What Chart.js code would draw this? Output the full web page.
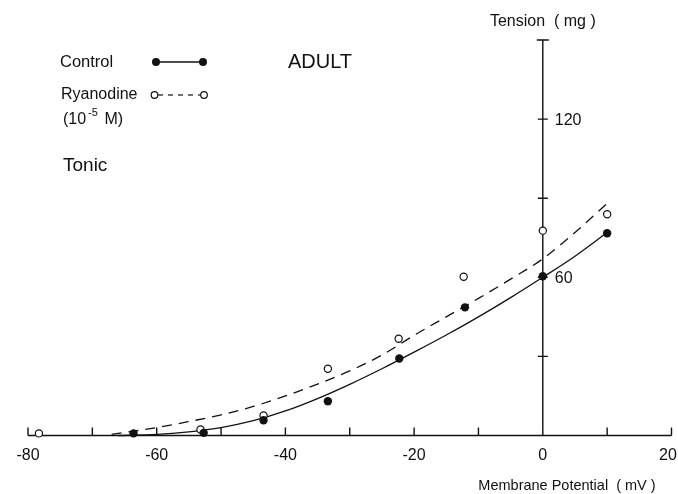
<!DOCTYPE html>
<html lang="en">
<head>
    <meta charset="UTF-8">
    <title>Tension vs Membrane Potential</title>
    <style>
        html, body {
            margin: 0;
            padding: 0;
            background: #fff;
        }
        #wrap {
            width: 678px;
            height: 494px;
        }
    </style>
    <script src="https://cdn.jsdelivr.net/npm/chart.js"></script>
</head>
<body>
    <div id="wrap">
        <canvas id="tensionChart" width="678" height="494"></canvas>
    </div>
    <script>
        // measured points
        const controlX = [-63.6, -52.7, -43.4, -33.4, -22.3, -12.1, 0, 10];
        const controlY = [0.8, 1.0, 5.8, 13.0, 29.2, 48.6, 60.4, 76.7];
        const ryanX = [-78.3, -53.2, -43.4, -33.4, -22.4, -12.3, 0, 10];
        const ryanY = [0.8, 2.3, 7.6, 25.3, 36.7, 60.2, 77.7, 83.9];

        // hand-drawn fitted curves
        const controlFitX = [-66, -60, -55, -50, -45, -40, -35, -30, -25, -20, -15, -10, -5, 0, 5, 10];
        const controlFitY = [0, 0.4, 1.4, 3.0, 5.6, 9.3, 14.0, 19.4, 25.3, 31.6, 38.1, 45, 52.3, 60, 68, 77];
        const ryanFitX = [-67, -60, -55, -50, -45, -40, -35, -30, -25, -20, -15, -10, -5, 0, 5, 10];
        const ryanFitY = [0.4, 3.0, 5.3, 7.8, 11, 15, 19.5, 24.5, 30.5, 38, 45, 52, 59.3, 67, 77, 88];

        // axes
        const xTicks = [-80, -70, -60, -50, -40, -30, -20, -10, 0, 10, 20];
        const xTickLabels = [-80, -60, -40, -20, 0, 20];
        const yTicks = [30, 60, 90, 120];
        const yTickLabels = [60, 120];

        const ink = '#111';
        const fontName = '"Liberation Sans", Arial, sans-serif';

        function pts(xs, ys) {
            return xs.map((x, i) => ({ x: x, y: ys[i] }));
        }

        const axesPlugin = {
            id: 'crossAxes',
            beforeDatasetsDraw(chart) {
                const ctx = chart.ctx;
                const xs = chart.scales.x;
                const ys = chart.scales.y;
                const y0 = ys.getPixelForValue(0);
                const x0 = xs.getPixelForValue(0);
                ctx.save();
                ctx.strokeStyle = ink;
                ctx.lineWidth = 1.4;
                ctx.beginPath();
                ctx.moveTo(xs.getPixelForValue(xs.min), y0);
                ctx.lineTo(xs.getPixelForValue(xs.max), y0);
                xTicks.forEach(v => {
                    const px = xs.getPixelForValue(v);
                    ctx.moveTo(px, y0);
                    ctx.lineTo(px, y0 - 8);
                });
                ctx.moveTo(x0, y0);
                ctx.lineTo(x0, ys.getPixelForValue(ys.max));
                yTicks.forEach(v => {
                    const py = ys.getPixelForValue(v);
                    ctx.moveTo(x0 - 5, py);
                    ctx.lineTo(x0 + 5, py);
                });
                const top = ys.getPixelForValue(ys.max);
                ctx.moveTo(x0 - 6, top);
                ctx.lineTo(x0 + 6, top);
                ctx.stroke();
                ctx.restore();
            },
            afterDraw(chart) {
                const ctx = chart.ctx;
                const xs = chart.scales.x;
                const ys = chart.scales.y;
                const y0 = ys.getPixelForValue(0);
                const x0 = xs.getPixelForValue(0);
                ctx.save();
                ctx.fillStyle = ink;
                ctx.textBaseline = 'middle';

                ctx.font = '16px ' + fontName;
                ctx.textAlign = 'center';
                xTickLabels.forEach(v => {
                    const px = Math.min(xs.getPixelForValue(v), chart.width - 10);
                    ctx.fillText(String(v), px, y0 + 20);
                });
                ctx.textAlign = 'left';
                yTickLabels.forEach(v => {
                    ctx.fillText(String(v), x0 + 12, ys.getPixelForValue(v) + 1);
                });

                ctx.textAlign = 'center';
                ctx.fillText('Tension  ( mg )', x0, 22);
                ctx.font = '14.5px ' + fontName;
                ctx.fillText('Membrane Potential  ( mV )', 567, 486);

                // legend and notes
                ctx.textAlign = 'left';
                ctx.font = '16.5px ' + fontName;
                ctx.fillText('Control', 60, 62);
                ctx.font = '16px ' + fontName;
                ctx.fillText('Ryanodine', 61, 95);
                ctx.fillText('(10', 63, 120);
                ctx.font = '11px ' + fontName;
                ctx.fillText('-5', 88, 113);
                ctx.font = '16px ' + fontName;
                ctx.fillText(' M)', 100, 120);
                ctx.font = '19px ' + fontName;
                ctx.fillText('Tonic', 63, 166);
                ctx.font = '20px ' + fontName;
                ctx.fillText('ADULT', 288, 62);

                ctx.strokeStyle = ink;
                ctx.lineWidth = 1.5;
                ctx.beginPath();
                ctx.moveTo(156, 62);
                ctx.lineTo(203, 62);
                ctx.stroke();
                [156, 203].forEach(cx => {
                    ctx.beginPath();
                    ctx.arc(cx, 62, 4, 0, Math.PI * 2);
                    ctx.fill();
                });
                ctx.lineWidth = 1.2;
                ctx.setLineDash([5, 5]);
                ctx.beginPath();
                ctx.moveTo(158, 95);
                ctx.lineTo(201, 95);
                ctx.stroke();
                ctx.setLineDash([]);
                [154.5, 204].forEach(cx => {
                    ctx.beginPath();
                    ctx.arc(cx, 95, 3.3, 0, Math.PI * 2);
                    ctx.fillStyle = '#fff';
                    ctx.fill();
                    ctx.stroke();
                });
                ctx.restore();
            }
        };

        new Chart(document.getElementById('tensionChart'), {
            type: 'scatter',
            data: {
                datasets: [
                    {
                        label: 'Control',
                        data: pts(controlX, controlY),
                        backgroundColor: ink,
                        borderColor: ink,
                        pointRadius: 4.2,
                        pointBorderWidth: 0,
                        showLine: false,
                        clip: false
                    },
                    {
                        label: 'Ryanodine (10-5 M)',
                        data: pts(ryanX, ryanY),
                        backgroundColor: '#fff',
                        borderColor: ink,
                        pointRadius: 3.6,
                        pointBorderWidth: 1.2,
                        showLine: false,
                        clip: false
                    },
                    {
                        label: 'Control fit',
                        data: pts(controlFitX, controlFitY),
                        borderColor: ink,
                        borderWidth: 1.3,
                        pointRadius: 0,
                        showLine: true,
                        cubicInterpolationMode: 'monotone',
                        clip: false
                    },
                    {
                        label: 'Ryanodine fit',
                        data: pts(ryanFitX, ryanFitY),
                        borderColor: ink,
                        borderWidth: 1.3,
                        borderDash: [10, 7],
                        pointRadius: 0,
                        showLine: true,
                        cubicInterpolationMode: 'monotone',
                        clip: false
                    }
                ]
            },
            options: {
                responsive: false,
                animation: false,
                layout: {
                    padding: { left: 28, right: 6.5, top: 40, bottom: 58.5 }
                },
                scales: {
                    x: { type: 'linear', min: -80, max: 20, display: false },
                    y: { type: 'linear', min: 0, max: 150, display: false }
                },
                plugins: {
                    legend: { display: false },
                    tooltip: { enabled: false }
                }
            },
            plugins: [axesPlugin]
        });
    </script>
</body>
</html>
